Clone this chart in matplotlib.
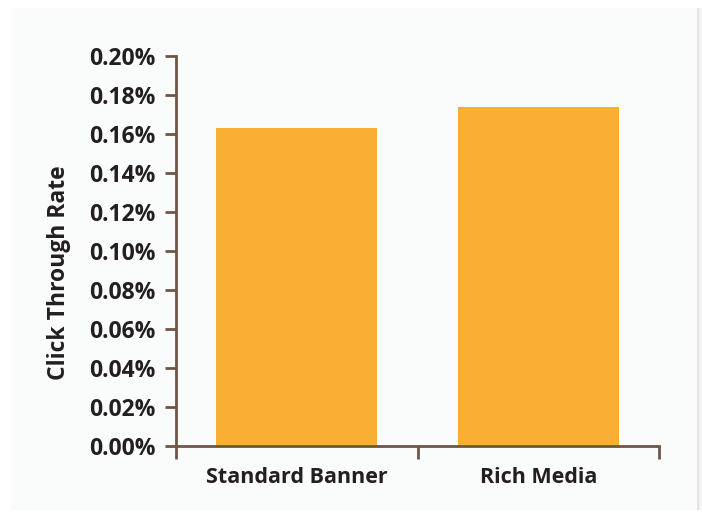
import matplotlib.pyplot as plt
from matplotlib.patches import Rectangle
from matplotlib.ticker import FuncFormatter, FixedLocator

# data
categories = ['Standard Banner', 'Rich Media']
ctr_values = [0.163, 0.174]  # percent
y_ticks = [0.00, 0.02, 0.04, 0.06, 0.08, 0.10, 0.12, 0.14, 0.16, 0.18, 0.20]

plt.rcParams['font.family'] = ['Open Sans', 'DejaVu Sans']

fig = plt.figure(figsize=(7.02, 5.19), dpi=100)
fig.patch.set_facecolor('white')

# panel with a soft shadow on the right
for i, a in enumerate([0.10, 0.07, 0.04]):
    fig.patches.append(Rectangle((11 / 702, 9 / 519), (686 + 2 + i * 2) / 702, 502 / 519,
                                 transform=fig.transFigure, facecolor='#808080',
                                 alpha=a, edgecolor='none', zorder=-3))
fig.patches.append(Rectangle((11 / 702, 9 / 519), 686 / 702, 502 / 519,
                             transform=fig.transFigure, facecolor='#FAFBFB',
                             edgecolor='none', zorder=-2))

ax = fig.add_axes([176 / 702, 1 - 446 / 519, 483 / 702, 390 / 519])
ax.set_facecolor('none')

brown = '#6E5546'
text_col = '#231F20'

x = list(range(len(categories)))
ax.bar(x, ctr_values, width=0.667, color='#F9AF33', zorder=2)

ax.set_xlim(-0.5, len(categories) - 0.5)
ax.set_ylim(0, 0.20)
ax.set_yticks(y_ticks)
ax.yaxis.set_major_formatter(FuncFormatter(lambda v, p: f'{v:.2f}%'))
ax.set_xticks(x)
ax.set_xticklabels(categories)
ax.xaxis.set_minor_locator(FixedLocator([-0.5, 0.5, 1.5]))

for s in ['top', 'right']:
    ax.spines[s].set_visible(False)
for s in ['left', 'bottom']:
    ax.spines[s].set_color(brown)
    ax.spines[s].set_linewidth(2)

ax.tick_params(axis='y', length=8, width=2, color=brown, pad=7,
               labelsize=16.5, labelcolor=text_col)
ax.tick_params(axis='x', which='major', length=0, pad=15,
               labelsize=15.5, labelcolor=text_col)
ax.tick_params(axis='x', which='minor', length=9, width=2, color=brown)
for lab in ax.get_yticklabels() + ax.get_xticklabels():
    lab.set_fontweight('bold')

ax.set_ylabel('Click Through Rate', fontsize=16.5, fontweight='bold',
              color=text_col)
ax.yaxis.set_label_coords((71 - 176) / 483, 0.5 - 22 / 390)

fig.savefig('out.png', dpi=100, facecolor=fig.get_facecolor())
